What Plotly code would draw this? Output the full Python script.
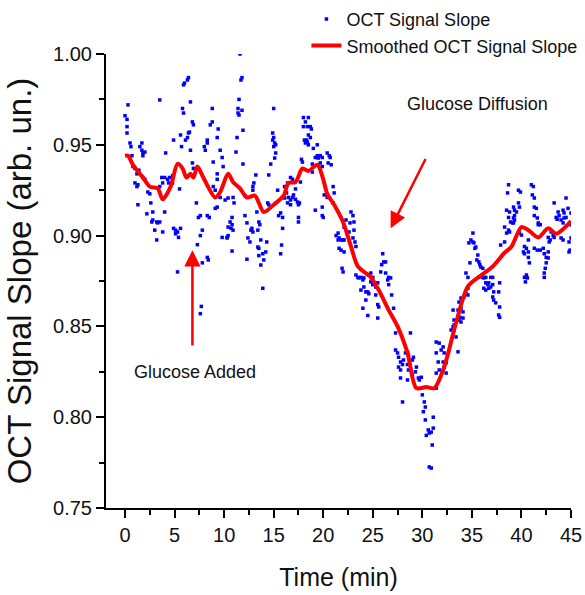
import plotly.graph_objects as go

# ---- smoothed curve ----
smooth_t = [0, 0.3, 0.8, 1.8, 2.5, 3.3, 3.8, 4.6, 5.3, 5.8, 6.2, 6.6, 6.9, 7.3, 7.9, 9.1, 9.6,
            10.4, 10.9, 11.6, 12.3, 13.1, 14.0, 15.0, 16.0, 16.5, 17.2, 17.9, 18.5, 19.4, 20.0,
            20.4, 21.1, 22.0, 22.8, 23.5, 24.8, 25.6, 26.6, 27.5, 28.5, 29.4, 30.4, 31.2, 32.2,
            33.4, 34.6, 35.9, 37.1, 38.2, 39.0, 40.0, 40.7, 41.7, 42.7, 43.5, 44.3, 45.0]
smooth_v = [0.944, 0.944, 0.939, 0.932, 0.927, 0.926, 0.920, 0.927, 0.9395, 0.937, 0.932, 0.934,
            0.932, 0.938, 0.932, 0.921, 0.924, 0.934, 0.9295, 0.926, 0.921, 0.922, 0.913, 0.917,
            0.922, 0.929, 0.9295, 0.937, 0.9356, 0.939, 0.931, 0.923, 0.917, 0.9075, 0.894, 0.883,
            0.877, 0.870, 0.859, 0.850, 0.8354, 0.816, 0.8166, 0.816, 0.8276, 0.852, 0.872, 0.878,
            0.883, 0.890, 0.894, 0.9047, 0.903, 0.899, 0.904, 0.901, 0.904, 0.908]

# ---- raw points ----
scatter_t = [
    0.0, 0.2, 0.3, 0.2, 0.2, 0.5, 0.6, 0.7, 0.8, 1.0, 1.2, 1.0, 1.2, 1.3, 1.3, 1.5, 1.7, 1.8, 1.7, 1.8,
    2.0, 1.4, 1.8, 2.0, 2.3, 2.5, 2.2, 2.6, 2.8, 2.7, 2.8, 3.2, 3.3, 3.5, 3.0, 3.8, 3.2, 3.5, 4.0, 4.1,
    3.7, 3.8, 3.5, 4.0, 4.3, 4.5, 4.8, 4.4, 4.8, 4.9, 4.9, 5.1, 5.3, 5.4, 5.1, 5.6, 5.3, 5.6, 5.7, 5.8,
    6.1, 6.3, 6.4, 6.5, 5.9, 6.4, 6.3, 5.9, 6.0, 6.6, 6.8, 6.9, 6.6, 6.8, 6.9, 5.5, 7.2, 7.4, 7.6, 7.8,
    7.6, 7.3, 7.8, 8.3, 8.4, 7.7, 7.6, 8.1, 8.0, 8.3, 8.3, 8.6, 8.8, 8.8, 9.3, 9.4, 9.6, 8.9, 9.3, 9.3,
    8.9, 9.1, 9.8, 9.9, 9.6, 10.1, 9.3, 9.1, 8.5, 8.3, 9.8, 10.3, 10.4,
    11.6, 11.7, 11.8, 11.5, 11.4, 11.8, 11.4, 11.5, 11.9, 11.3, 11.2, 11.9, 10.4, 10.9, 11.0, 10.6,
    10.8, 10.7, 10.9, 10.8, 10.3, 10.4, 10.8, 12.1, 12.3, 12.1, 12.3, 12.4, 12.6, 12.3, 12.7, 12.9,
    12.8, 12.9, 13.0, 13.2, 12.9, 13.3, 13.5, 13.6, 13.4, 13.7, 13.4, 13.5, 13.5, 13.9, 13.7, 14.0,
    14.2, 14.3, 13.9, 14.4, 14.5, 14.5, 14.7, 14.9, 15.0, 15.1, 15.2, 15.0, 14.9, 15.0, 15.2, 15.1,
    15.4, 15.5, 15.7, 15.9, 15.9, 15.8, 15.7, 16.1, 16.4, 16.3, 16.1, 16.5, 16.7, 16.9, 16.4, 16.7,
    16.7, 16.9, 17.0, 17.2, 17.4, 17.5, 17.6, 17.2, 17.5, 17.5, 17.8, 17.9, 17.7, 18.0, 18.5, 18.2,
    18.0, 18.4, 18.7, 18.8, 18.5, 18.7, 18.1, 18.2, 18.4, 18.5, 18.3, 19.0, 19.4, 18.9, 18.9, 19.2,
    19.4, 19.5, 19.7, 19.9, 20.4, 20.6, 20.7, 20.5, 20.8, 19.7, 19.9, 19.2, 19.9, 19.9, 20.0, 21.0,
    20.1, 20.4, 21.1, 21.0, 21.5, 21.6, 22.0, 21.8, 21.6, 22.1, 21.9, 22.0,
    22.8, 23.0, 22.7, 23.1, 23.1, 22.6, 22.3, 22.1, 21.3, 21.5, 21.8, 22.1, 23.0, 23.2, 23.3, 26.0,
    26.1, 26.3, 25.9, 25.8, 26.3, 26.6, 26.8, 26.5, 26.6, 26.9, 27.1, 23.3, 23.5, 23.6, 23.8, 24.0,
    24.1, 23.8, 24.1, 24.3, 24.6, 24.5, 24.6, 24.8, 25.0, 24.8, 25.0, 24.3, 24.0, 24.5, 25.3, 25.5,
    25.6, 25.5, 25.3, 25.5, 27.3, 28.8, 27.3, 27.5, 27.6, 27.8, 27.6, 27.8, 28.3, 28.5, 28.6, 28.1,
    28.0, 28.5, 28.6, 29.0, 29.1, 29.4, 29.3, 29.0, 28.5, 27.8, 29.6, 29.9, 29.7, 30.0, 30.2, 30.3,
    30.1, 31.1, 30.3, 30.6, 30.7, 30.4, 30.9, 31.1, 31.0, 30.7, 30.9, 28.0, 31.4, 31.7, 32.1, 31.9,
    32.2, 31.4, 31.6, 32.1, 31.7, 32.2, 32.4, 31.4, 32.4, 31.4, 32.9, 33.2, 33.1, 33.2,
    33.6, 33.1, 33.4, 33.2, 33.6, 33.8, 33.7, 34.1, 33.9, 33.6, 33.9, 34.1, 33.7, 33.9, 34.2, 34.4,
    34.6, 34.6, 34.4, 34.6, 34.7, 35.1, 34.9, 35.1, 35.2, 35.4, 35.3, 35.6, 35.5, 35.7, 35.8, 35.9,
    36.1, 34.8, 35.7, 36.1, 36.2, 36.4, 36.9, 36.4, 36.6, 36.7, 36.9, 37.1, 36.7, 36.2, 36.4, 37.1,
    37.8, 37.7, 37.2, 37.1, 37.2, 37.4, 37.8, 37.7, 37.8, 37.9, 38.3, 38.5, 38.7, 38.8, 38.3, 38.5,
    38.8, 38.7, 38.7, 38.6, 38.9, 39.1, 39.2, 39.3, 39.5, 39.3, 39.7, 39.8, 39.7, 39.9, 39.2, 39.3,
    39.2, 40.0, 39.8, 40.2, 40.3, 40.7, 40.3, 40.5, 40.7, 40.8, 40.3, 40.5, 40.6, 40.4, 40.7, 41.0,
    41.2, 41.1, 41.3, 41.3, 41.5, 41.3, 41.6, 41.7, 41.7, 41.9, 41.3, 41.6, 41.9, 42.2, 42.3, 42.5,
    42.7, 42.7, 42.5, 42.4, 42.3, 42.3, 42.7, 42.9, 42.8, 43.0, 43.2, 43.3, 43.3, 43.7, 43.5, 43.8,
    43.6, 44.0, 44.3, 44.5, 44.2, 44.5, 44.7, 44.2, 44.3, 44.0, 44.2, 44.8, 45.0, 44.9, 44.8, 45.0,
    45.0]
scatter_v = [
    0.966, 0.964, 0.972, 0.960, 0.9565, 0.951, 0.949, 0.944, 0.938, 0.937, 0.934, 0.929, 0.927, 0.928,
    0.917, 0.949, 0.947, 0.9455, 0.951, 0.944, 0.946, 0.936, 0.932, 0.931, 0.924, 0.923, 0.912, 0.918,
    0.913, 0.9075, 0.9086, 0.9075, 0.907, 0.9075, 0.903, 0.902, 0.8976, 0.9747, 0.913, 0.9455, 0.932,
    0.929, 0.927, 0.932, 0.931, 0.932, 0.933, 0.929, 0.929, 0.9526, 0.904, 0.901, 0.902, 0.899, 0.903,
    0.904, 0.880, 0.9554, 0.949, 0.970, 0.9526, 0.954, 0.9565, 0.957, 0.9675, 0.987, 0.9857, 0.983,
    0.984, 0.9736, 0.9626, 0.961, 0.947, 0.940, 0.937, 0.9257, 0.918, 0.910, 0.911, 0.903, 0.900,
    0.895, 0.885, 0.888, 0.8866, 0.861, 0.857, 0.947, 0.949, 0.9526, 0.951, 0.961, 0.9626, 0.970,
    0.954, 0.9587, 0.947, 0.9405, 0.934, 0.931, 0.927, 0.925, 0.943, 0.938, 0.921, 0.9196, 0.9157,
    0.915, 0.910, 0.911, 0.899, 0.899, 0.9047,
    1.000, 0.9857, 0.987, 0.975, 0.970, 0.969, 0.9675, 0.9664, 0.958, 0.954, 0.946, 0.9394, 0.9207,
    0.921, 0.918, 0.9075, 0.906, 0.904, 0.903, 0.910, 0.8987, 0.900, 0.8915, 0.922, 0.921, 0.911,
    0.907, 0.8987, 0.8965, 0.887, 0.903, 0.902, 0.904, 0.927, 0.929, 0.9334, 0.925, 0.913, 0.9075,
    0.906, 0.903, 0.8976, 0.8937, 0.893, 0.889, 0.890, 0.8838, 0.8866, 0.891, 0.8965, 0.871, 0.918,
    0.917, 0.9334, 0.9394, 0.9526, 0.954, 0.951, 0.950, 0.949, 0.9565, 0.970, 0.9455, 0.9427, 0.925,
    0.911, 0.9125, 0.910, 0.904, 0.8948, 0.890, 0.927, 0.929, 0.9235, 0.9207, 0.921, 0.9196, 0.921,
    0.918, 0.917, 0.932, 0.931, 0.9224, 0.920, 0.9185, 0.917, 0.918, 0.9257, 0.910, 0.9075, 0.942,
    0.9405, 0.9295, 0.965, 0.965, 0.9626, 0.960, 0.960, 0.960, 0.9587, 0.9554, 0.954, 0.9526, 0.951,
    0.9515, 0.950, 0.9526, 0.948, 0.950, 0.935, 0.9394, 0.943, 0.944, 0.9427, 0.944, 0.943, 0.9455,
    0.944, 0.943, 0.940, 0.939, 0.940, 0.938, 0.914, 0.9157, 0.911, 0.910, 0.927, 0.9224, 0.921,
    0.9235, 0.918, 0.9014, 0.8987, 0.8976, 0.892, 0.893, 0.891, 0.882, 0.880,
    0.913, 0.911, 0.907, 0.9075, 0.903, 0.902, 0.9086, 0.9047, 0.900, 0.8976, 0.8976, 0.8976, 0.8987,
    0.8965, 0.894, 0.890, 0.8855, 0.8855, 0.884, 0.880, 0.8794, 0.877, 0.8767, 0.8756, 0.873, 0.8673,
    0.860, 0.8783, 0.877, 0.8767, 0.877, 0.8756, 0.8767, 0.870, 0.8717, 0.869, 0.868, 0.869, 0.8783,
    0.8794, 0.877, 0.8745, 0.873, 0.8645, 0.860, 0.856, 0.8673, 0.862, 0.8607, 0.8546, 0.8717, 0.874,
    0.8464, 0.8464, 0.837, 0.8354, 0.833, 0.8304, 0.8276, 0.826, 0.8354, 0.836, 0.8343, 0.8315, 0.829,
    0.829, 0.826, 0.8315, 0.833, 0.8276, 0.825, 0.8233, 0.8205, 0.8216, 0.8216, 0.822, 0.8205, 0.8123,
    0.8084, 0.8056, 0.803, 0.800, 0.7985, 0.793, 0.7913, 0.790, 0.7918, 0.794, 0.7847, 0.7726, 0.772,
    0.8084, 0.8414, 0.8408, 0.8387, 0.837, 0.8354, 0.8354, 0.8304, 0.8304, 0.826, 0.8276, 0.830,
    0.8243, 0.8243, 0.816, 0.848, 0.8508, 0.859, 0.8535,
    0.836, 0.8497, 0.8442, 0.848, 0.855, 0.855, 0.8535, 0.8546, 0.8524, 0.859, 0.860, 0.858, 0.8634,
    0.8656, 0.8662, 0.868, 0.8673, 0.871, 0.8794, 0.877, 0.896, 0.9014, 0.8976, 0.8965, 0.896, 0.8937,
    0.893, 0.8893, 0.8866, 0.8855, 0.884, 0.8827, 0.882, 0.885, 0.877, 0.877, 0.8767, 0.877, 0.877,
    0.874, 0.873, 0.874, 0.8717, 0.873, 0.871, 0.871, 0.870, 0.877, 0.874, 0.869, 0.869, 0.8662,
    0.8645, 0.863, 0.8607, 0.8563, 0.855, 0.8948, 0.9047, 0.9014, 0.903, 0.902, 0.8965, 0.914, 0.913,
    0.910, 0.928, 0.9235, 0.9075, 0.907, 0.9157, 0.914, 0.913, 0.911, 0.918, 0.9157, 0.925, 0.924,
    0.9097, 0.9086, 0.907, 0.9003, 0.9014, 0.891, 0.890, 0.891, 0.894, 0.893, 0.888, 0.885, 0.877,
    0.8783, 0.8767, 0.8745, 0.8976, 0.928, 0.927, 0.9224, 0.9207, 0.9157, 0.915, 0.911, 0.9097, 0.907,
    0.906, 0.906, 0.893, 0.892, 0.892, 0.893, 0.890, 0.888, 0.891, 0.8877, 0.885, 0.882, 0.8794, 0.877,
    0.899, 0.8976, 0.8965, 0.902, 0.900, 0.899, 0.918, 0.913, 0.910, 0.911, 0.909, 0.9086, 0.9097,
    0.910, 0.907, 0.9207, 0.915, 0.914, 0.9125, 0.8987, 0.8976, 0.8965, 0.8987, 0.892, 0.891, 0.9125,
    0.906]

x_ticks = [0, 5, 10, 15, 20, 25, 30, 35, 40, 45]
y_ticks = [0.75, 0.80, 0.85, 0.90, 0.95, 1.00]
y_tick_labels = ["0.75", "0.80", "0.85", "0.90", "0.95", "1.00"]

FONT = "Liberation Sans, Arial, sans-serif"
TXT = "#111111"

fig = go.Figure()
fig.add_trace(go.Scatter(
    x=scatter_t, y=scatter_v, mode="markers", name="OCT Signal Slope",
    marker=dict(symbol="square", size=3.5, color="#0000ff", line=dict(width=0)),
))
fig.add_trace(go.Scatter(
    x=smooth_t, y=smooth_v, mode="lines", name="Smoothed OCT Signal Slope",
    line=dict(color="#ff0000", width=4, shape="spline", smoothing=0.8),
))

# annotations
fig.add_annotation(x=35.6, y=0.9725, text="Glucose Diffusion", showarrow=False,
                   font=dict(family=FONT, size=18, color=TXT))
fig.add_annotation(x=7.1, y=0.825, text="Glucose Added", showarrow=False,
                   font=dict(family=FONT, size=18, color=TXT))
fig.add_annotation(x=26.8, y=0.904, ax=30.4, ay=0.943, axref="x", ayref="y", text="",
                   showarrow=True, arrowhead=2, arrowsize=1.3, arrowwidth=2.5, arrowcolor="#ff0000")
fig.add_annotation(x=6.8, y=0.892, ax=6.8, ay=0.8387, axref="x", ayref="y", text="",
                   showarrow=True, arrowhead=2, arrowsize=1.3, arrowwidth=2.5, arrowcolor="#ff0000")

fig.update_layout(
    width=585, height=595,
    margin=dict(l=106, r=14, t=54, b=87, autoexpand=False),
    paper_bgcolor="white", plot_bgcolor="white",
    showlegend=True,
    legend=dict(x=0.431, y=1.117, xanchor="left", yanchor="top",
                font=dict(family=FONT, size=18, color=TXT),
                bgcolor="rgba(0,0,0,0)", borderwidth=0, tracegroupgap=0,
                itemwidth=30),
)
fig.update_xaxes(
    range=[-1.92, 45], showgrid=False, zeroline=False,
    showline=True, linecolor="black", linewidth=2,
    tickmode="array", tickvals=x_ticks, ticks="outside", ticklen=8, tickwidth=2, tickcolor="black",
    minor=dict(dtick=2.5, tick0=0, ticks="outside", ticklen=5, tickwidth=1.5, tickcolor="black"),
    tickfont=dict(family=FONT, size=20, color=TXT),
    title=dict(text="Time (min)", font=dict(family=FONT, size=25, color=TXT), standoff=23),
)
fig.update_yaxes(
    range=[0.75, 1.0], showgrid=False, zeroline=False,
    showline=True, linecolor="black", linewidth=2,
    tickmode="array", tickvals=y_ticks, ticktext=y_tick_labels,
    ticks="outside", ticklen=8, tickwidth=2, tickcolor="black",
    minor=dict(dtick=0.025, tick0=0.75, ticks="outside", ticklen=5, tickwidth=1.5, tickcolor="black"),
    tickfont=dict(family=FONT, size=20, color=TXT),
    title=dict(text="OCT Signal Slope (arb. un.)", font=dict(family=FONT, size=33, color=TXT), standoff=12),
)

fig.write_html("out.html")
